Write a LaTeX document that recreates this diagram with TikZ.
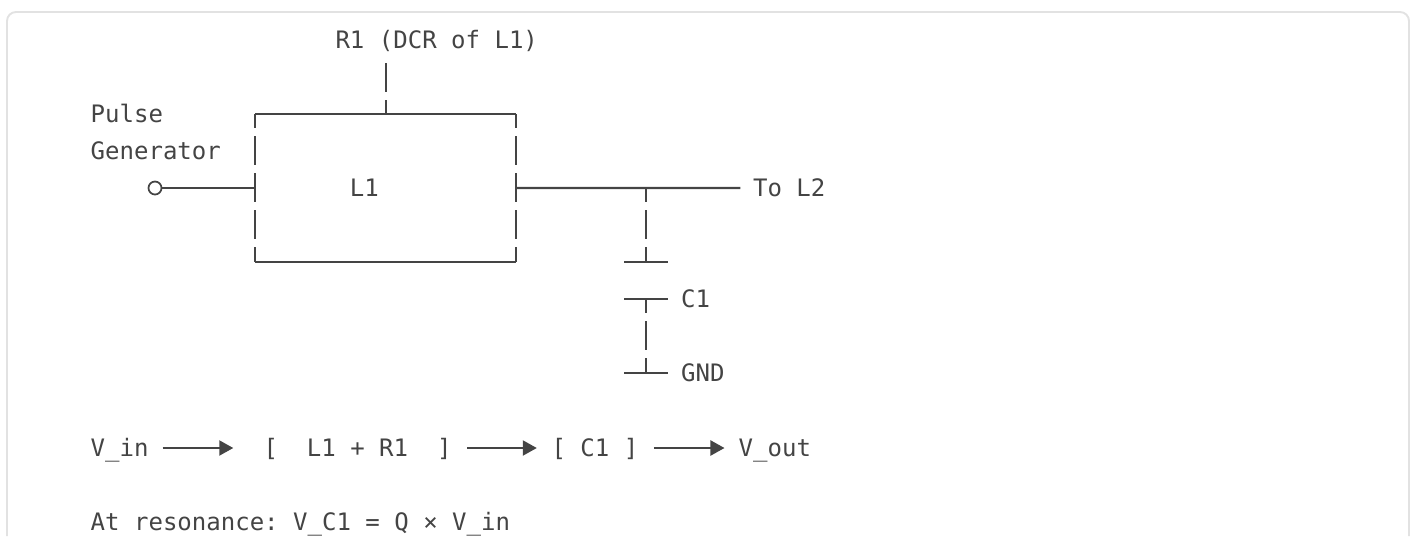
\documentclass[tikz,border=0pt]{standalone}
\usepackage{fontspec}
\setmonofont{DejaVu Sans Mono}
\usetikzlibrary{arrows.meta}
\definecolor{ink}{HTML}{444444}
\definecolor{rimgray}{HTML}{E2E2E2}
\tikzset{lbl/.style={font=\ttfamily\fontsize{6.83pt}{8pt}\selectfont,text=ink,inner sep=0pt,anchor=base west,text height=0.18cm,text depth=0.02cm}}
\tikzset{wire/.style={draw=ink,line width=0.6pt}}
\tikzset{gapwire/.style={wire,dash pattern=on 0.29cm off 0.08cm,dash phase=0.15cm}}
\tikzset{term/.style={circle,draw=ink,line width=0.5pt,fill=white,minimum size=0.13cm,inner sep=0pt}}
\tikzset{flow/.style={wire,-{Triangle[length=0.14cm,width=0.15cm]}}}

\begin{document}
\begin{tikzpicture}[x=0.01cm,y=-0.01cm]
                \useasboundingbox (0,0) rectangle (1416,536);
                \draw[rimgray,line width=0.55pt,rounded corners=0.09cm] (7,536) -- (7,12) -- (1409,12) -- (1409,536);
                % L1 box
                \coordinate (tl) at (255,114);
                \coordinate (tr) at (516,114);
                \coordinate (bl) at (255,262);
                \coordinate (br) at (516,262);
                \coordinate (inl) at (255,188);
                \coordinate (outr) at (516,188);
                \coordinate (rbot) at (386,114);
                \coordinate (rtop) at (386,63);
                \coordinate (jct) at (646,188);
                % capacitor and ground
                \coordinate (capa) at (646,262);
                \coordinate (capb) at (646,299);
                \coordinate (gnd) at (646,373);
                \node[lbl] (rlab) at (334.8,48) {R1 (DCR of L1)};
                \node[lbl] (pulse) at (90,122) {Pulse};
                \node[lbl] (gen) at (90,159) {Generator};
                \node[lbl] (lone) at (349.2,196) {L1};
                \node[lbl] (tolt) at (752.4,196) {To L2};
                \node[lbl] (cone) at (680.4,307) {C1};
                \node[lbl] (gndl) at (680.4,381) {GND};
                \node[term] (pg) at (155,188) {};
                \draw[wire] (tl) -- (tr);
                \draw[wire] (bl) -- (br);
                \draw[gapwire] (tl) -- (bl);
                \draw[gapwire] (tr) -- (br);
                \draw[gapwire] (rbot) -- (rtop);
                \draw[wire] (pg) -- (inl);
                \draw[wire,shorten >=0.12cm] (outr) -- (tolt.west);
                \draw[gapwire] (jct) -- (capa);
                \draw[gapwire] (capb) -- (gnd);
                \draw[wire] (624,262) -- (668,262);
                \draw[wire] (624,299) -- (668,299);
                \draw[wire] (624,373) -- (668,373);
                % signal path
                \node[lbl] (vin) at (90,456) {V\_in};
                \node[lbl] (lr) at (262.8,456) {[\ \ L1 + R1\ \ ]};
                \node[lbl] (cb) at (550.8,456) {[ C1 ]};
                \node[lbl] (vout) at (738,456) {V\_out};
                \draw[flow,shorten <=0.134cm,shorten >=0.295cm] (vin.east) -- (lr.west);
                \draw[flow,shorten <=0.15cm,shorten >=0.14cm] (lr.east) -- (cb.west);
                \draw[flow,shorten <=0.15cm,shorten >=0.135cm] (cb.east) -- (vout.west);
                \node[lbl] (res) at (90,530) {At resonance: V\_C1 = Q × V\_in};
\end{tikzpicture}
\end{document}
